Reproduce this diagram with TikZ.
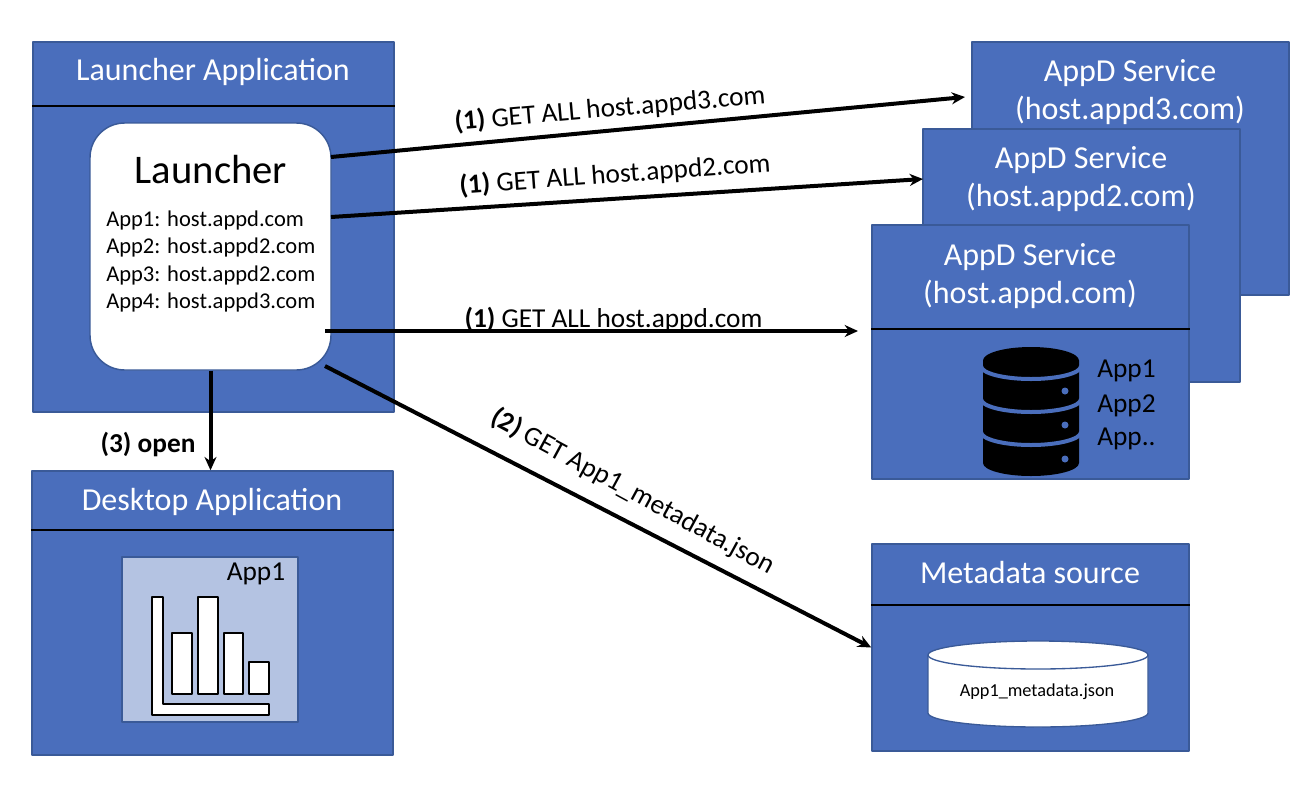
\documentclass[tikz,border=0pt]{standalone}
\usepackage{fontspec}
\setmainfont{Carlito}
\usetikzlibrary{arrows.meta}
\definecolor{boxblue}{HTML}{4A6EBC}
\definecolor{boxedge}{HTML}{3A5A98}
\definecolor{panelblue}{HTML}{B4C3E2}
\tikzset{
	bluebox/.style 2 args={draw=boxedge,fill=boxblue,line width=1.1pt,inner sep=0pt,minimum width=#1*0.75pt,minimum height=#2*0.75pt},
	title/.style={text=white,font=\fontsize{24}{29}\selectfont,align=center,inner sep=0pt},
	arrowlabel/.style={font=\fontsize{20.5}{24}\selectfont,inner sep=0pt},
	conn/.style={-{Stealth[length=10pt,width=9pt]},line width=3pt},
	dark/.style={font=\fontsize{20.5}{24}\selectfont,inner sep=0pt}
}
\begin{document}
\begin{tikzpicture}[x=0.75pt,y=-0.75pt,line join=round]
	\useasboundingbox (0,0) rectangle (1306,800);
	% outer boxes
	\node[bluebox={361}{370}] (launcherapp) at (213.5,227) {};
	\node[bluebox={361}{284}] (desktop) at (212.5,613) {};
	\node[bluebox={317}{253}] (appdc) at (1130.5,168.5) {};
	\node[bluebox={317}{253}] (appdb) at (1081.5,255.5) {};
	\node[bluebox={317}{254}] (appda) at (1030.5,352) {};
	\node[bluebox={317}{207}] (mdsource) at (1030.5,647.5) {};
	\foreach \b/\y in {launcherapp/106,desktop/530,appda/329,mdsource/605}
	\draw[line width=1.3pt] (\b.west|-0,\y)--(\b.east|-0,\y);
	% titles
	\node[title] (tlauncher) at (213,71.5) {Launcher Application};
	\node[title] (tdesktop) at (212,501.5) {Desktop Application};
	\node[title] (tmeta) at (1030,572) {Metadata source};
	\foreach \n/\x/\y/\h in {tc/1130/92/host.appd3.com,tb/1081/179/host.appd2.com,ta/1030/276/host.appd.com}
	\node[title] (\n) at (\x,\y) {AppD Service\\(\h)};
	% launcher
	\node[draw=boxedge,fill=white,rounded corners=26pt,line width=1.1pt,minimum width=241*0.75pt,minimum height=247*0.75pt] (launcher) at (210.5,246.5) {};
	\node[font=\fontsize{30.5}{36}\selectfont,inner sep=0pt] (lname) at (211,170) {Launcher};
	\foreach \i/\y/\h in {1/220/host.appd.com,2/247/host.appd2.com,3/275/host.appd2.com,4/302/host.appd3.com}
	\node[anchor=west,font=\fontsize{16.9}{20}\selectfont,inner sep=0pt] (line\i) at (106,\y) {App\i: \h};
	% app panel
	\node[draw=boxedge,fill=panelblue,line width=1pt,minimum width=176*0.75pt,minimum height=165*0.75pt] (panel) at (210,639.5) {};
	\node[dark] (panellabel) at (256,574) {App1};
	\draw[fill=white,line width=1pt] (152,597)--(163,597)--(163,704)--(269,704)--(269,715)--(152,715)--cycle;
	\foreach \x/\w/\t in {172/20/633,198/20/597,224/19/633,249/20/662}
	\draw[fill=white,line width=1pt] (\x,\t) rectangle (\x+\w,694);
	% database
	\fill (983,360.5) arc[start angle=180,end angle=360,x radius=48,y radius=13.5]
		--(1079,463) arc[start angle=0,end angle=180,x radius=48,y radius=13]--cycle;
	\foreach \y in {366,399,432}
	\draw[boxblue,line width=3pt] (981,\y) arc[start angle=180,end angle=0,x radius=50,y radius=13];
	\foreach \y in {391,425,459}
	\fill[boxblue] (1065,\y) circle (3.5);
	\foreach \n/\y/\t in {da/371/App1,db/406/App2,dc/439/App..}
	\node[dark,anchor=west] (\n) at (1097,\y) {\t};
	% metadata file
	\draw[draw=boxedge,fill=white,line width=1pt] (928,655) arc[start angle=180,end angle=360,x radius=110,y radius=14]
		--(1148,713) arc[start angle=0,end angle=180,x radius=110,y radius=14]--cycle;
	\draw[draw=boxedge,line width=1pt] (928,655) arc[start angle=180,end angle=0,x radius=110,y radius=14];
	\node[font=\fontsize{13.7}{16}\selectfont,inner sep=0pt] (mdname) at (1037,692) {App1\_metadata.json};
	% connectors
	\path
	(331,157) coordinate (outc)
	(965,97) coordinate (inc)
	(331,217) coordinate (outb)
	(923,179) coordinate (inb)
	(325,331) coordinate (outa)
	(858,331) coordinate (ina)
	(325,366) coordinate (outm)
	;
	\draw[conn] (outc)--(inc);
	\draw[conn] (outb)--(inb);
	\draw[conn] (outa)--(ina);
	\draw[conn] (outm)--(mdsource.west);
	\draw[conn] (launcher.south)--(launcher.south|-desktop.north);
	% labels
	\node[arrowlabel,rotate=5] (lc) at (610,109) {\textbf{(1)} GET ALL host.appd3.com};
	\node[arrowlabel,rotate=4.2] (lb) at (615,175) {\textbf{(1)} GET ALL host.appd2.com};
	\node[arrowlabel] (la) at (613.5,319.5) {\textbf{(1)} GET ALL host.appd.com};
	\node[arrowlabel,rotate=-28.5] (lm) at (633,492) {\textbf{(2)} GET App1\_metadata.json};
	\node[arrowlabel,font=\fontsize{20.5}{24}\selectfont\bfseries] (lo) at (148,444) {(3) open};
\end{tikzpicture}
\end{document}
